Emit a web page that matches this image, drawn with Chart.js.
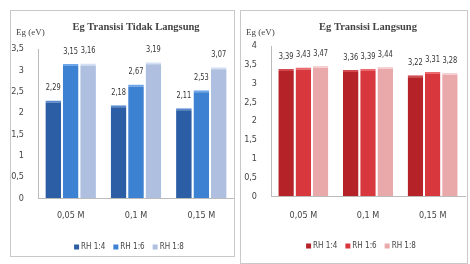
<!DOCTYPE html>
<html>
<head>
<meta charset="utf-8">
<script src="https://cdn.jsdelivr.net/npm/chart.js@4/dist/chart.umd.min.js"></script>
<style>
  html, body { margin: 0; padding: 0; background: #fff; }
  body { width: 470px; height: 264px; position: relative; overflow: hidden; }
  .panel { position: absolute; border: 1px solid #c9c9c9; background: #fff; }
  #p1 { left: 10px; top: 10px; width: 223px; height: 245px; }
  #p2 { left: 240px; top: 10px; width: 226px; height: 252px; }
  canvas { display: block; }
</style>
</head>
<body>
<div class="panel" id="p1"><canvas id="tidak"></canvas></div>
<div class="panel" id="p2"><canvas id="langsung"></canvas></div>
<script>
const categories = ['0,05 M', '0,1 M', '0,15 M'];
const seriesNames = ['RH 1:4', 'RH 1:6', 'RH 1:8'];

// Eg transisi tidak langsung (eV)
const tidak14 = [2.29, 2.18, 2.11];
const tidak16 = [3.15, 2.67, 2.53];
const tidak18 = [3.16, 3.19, 3.07];

// Eg transisi langsung (eV)
const langsung14 = [3.39, 3.36, 3.22];
const langsung16 = [3.43, 3.39, 3.31];
const langsung18 = [3.47, 3.44, 3.28];

const ticksTidak = [0, 0.5, 1, 1.5, 2, 2.5, 3, 3.5];
const ticksLangsung = [0, 0.5, 1, 1.5, 2, 2.5, 3, 3.5, 4];

const narrow = "'Liberation Sans Narrow', 'DejaVu Sans Condensed', sans-serif";
const serif = "'Liberation Serif', 'DejaVu Serif', serif";

function comma(v) { return String(v).replace('.', ','); }

// value labels, title, axis caption and legend
const decor = {
  id: 'decor',
  afterDatasetsDraw(chart, args, opts) {
    const ctx = chart.ctx;
    const a = chart.chartArea;
    ctx.save();
    ctx.fillStyle = '#333';
    ctx.font = '9px ' + narrow;
    ctx.textAlign = 'center';
    ctx.textBaseline = 'bottom';
    chart.data.datasets.forEach((ds, i) => {
      chart.getDatasetMeta(i).data.forEach((bar, j) => {
        ctx.save();
        ctx.translate(bar.x, bar.y - 8);
        ctx.scale(0.82, 1);
        ctx.fillText(comma(ds.data[j]), 0, 0);
        ctx.restore();
      });
    });

    ctx.font = 'bold 10.5px ' + serif;
    ctx.fillStyle = '#444';
    ctx.textBaseline = 'middle';
    ctx.fillText(opts.title, (a.left + a.right) / 2, opts.titleY);
    ctx.font = '9px ' + serif;
    ctx.textAlign = 'left';
    ctx.fillText('Eg (eV)', 5, opts.titleY + 6);

    // legend
    ctx.font = '8px ' + narrow;
    const gap = 8, box = 5;
    const widths = chart.data.datasets.map(ds => box + 2 + ctx.measureText(ds.label).width);
    const total = widths.reduce((s, w) => s + w, 0) + gap * (widths.length - 1);
    let x = opts.legendX - total / 2;
    chart.data.datasets.forEach((ds, i) => {
      ctx.fillStyle = ds.backgroundColor;
      ctx.fillRect(x, opts.legendY - box / 2, box, box);
      ctx.fillStyle = '#444';
      ctx.fillText(ds.label, x + box + 2, opts.legendY);
      x += widths[i] + gap;
    });
    ctx.restore();
  }
};

function makeChart(id, d1, d2, d3, colors, ticks, max, title, o) {
  const ctx = document.getElementById(id).getContext('2d');
  const bw = { left: 0, right: 0, top: 2, bottom: 0 };
  return new Chart(ctx, {
    type: 'bar',
    data: {
      labels: categories,
      datasets: [
        { label: seriesNames[0], data: d1, backgroundColor: colors[0], borderColor: colors[3], borderWidth: bw, borderSkipped: 'bottom' },
        { label: seriesNames[1], data: d2, backgroundColor: colors[1], borderColor: colors[4], borderWidth: bw, borderSkipped: 'bottom' },
        { label: seriesNames[2], data: d3, backgroundColor: colors[2], borderColor: colors[5], borderWidth: bw, borderSkipped: 'bottom' }
      ]
    },
    options: {
      responsive: true,
      maintainAspectRatio: false,
      animation: false,
      layout: { padding: o.pad },
      scales: {
        x: {
          grid: { display: false },
          border: { display: true, color: '#bbb' },
          categoryPercentage: o.cat,
          barPercentage: 1,
          ticks: { color: '#444', padding: o.xpad, font: { size: 9, family: narrow } }
        },
        y: {
          min: 0,
          max: max,
          grid: { display: false },
          border: { display: true, color: '#bbb' },
          afterBuildTicks: (scale) => { scale.ticks = ticks.map(v => ({ value: v })); },
          afterFit: (scale) => { scale.width = o.yw; },
          ticks: {
            color: '#444',
            padding: 6,
            font: { size: 9, family: narrow },
            callback: (v) => comma(v)
          }
        }
      },
      plugins: {
        legend: { display: false },
        tooltip: { enabled: false },
        decor: { title: title, titleY: 16, legendX: o.legendX, legendY: o.legendY }
      }
    },
    plugins: [decor]
  });
}

makeChart('tidak', tidak14, tidak16, tidak18,
  ['#2c5ea6', '#3d82d2', '#aebfe0', '#5a8ad0', '#6fa6ea', '#d4e0f4'],
  ticksTidak, 3.5, 'Eg Transisi Tidak Langsung',
  { pad: { top: 38, left: 0, right: 0, bottom: 31 }, yw: 27, xpad: 4, cat: 0.84, legendX: 118, legendY: 236 });

makeChart('langsung', langsung14, langsung16, langsung18,
  ['#b52228', '#d8383d', '#e9a9ab', '#d24a50', '#ea6a6e', '#f6d0d1'],
  ticksLangsung, 4, 'Eg Transisi Langsung',
  { pad: { top: 35, left: 0, right: 2, bottom: 36 }, yw: 30, xpad: 6, cat: 0.8, legendX: 120, legendY: 235 });
</script>
</body>
</html>
